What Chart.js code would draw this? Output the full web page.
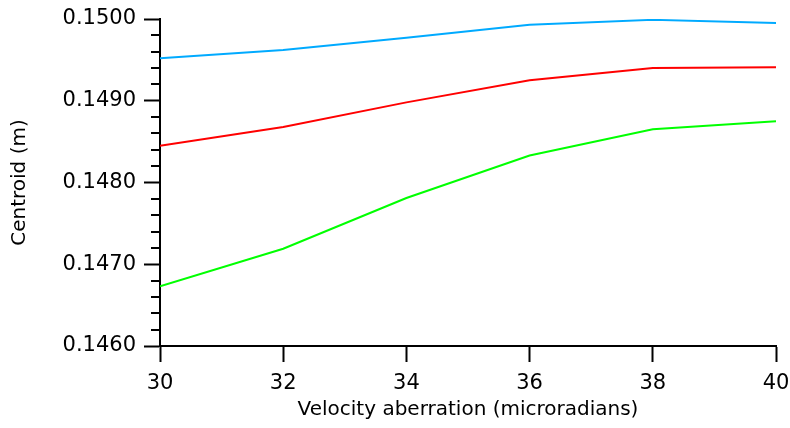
<!DOCTYPE html>
<html>
<head>
<meta charset="utf-8">
<script src="https://cdn.jsdelivr.net/npm/chart.js@4/dist/chart.umd.min.js"></script>
<style>
  html, body { margin: 0; padding: 0; background: #ffffff; }
  #wrap { width: 790px; height: 428px; }
</style>
</head>
<body>
<div id="wrap"><canvas id="c" width="790" height="428"></canvas></div>
<script>
// ---- data ----
const velocityAberration = [30, 32, 34, 36, 38, 40];
const centroidBlue  = [0.14952, 0.14962, 0.14977, 0.14993, 0.14999, 0.14995];
const centroidRed   = [0.14845, 0.14868, 0.14898, 0.14925, 0.14940, 0.14941];
const centroidGreen = [0.14673, 0.14719, 0.14781, 0.14833, 0.14865, 0.14875];
const xTickLabels = ['30', '32', '34', '36', '38', '40'];
const yTickLabels = ['0.1460', '0.1470', '0.1480', '0.1490', '0.1500'];
const xTitle = 'Velocity aberration (microradians)';
const yTitle = 'Centroid (m)';

const FONT = '"DejaVu Sans", "Liberation Sans", sans-serif';

function pts(ys) { return velocityAberration.map((x, i) => ({ x: x, y: ys[i] })); }

const minorTicks = {
  id: 'minorTicks',
  afterDraw(chart) {
    const ys = chart.scales.y;
    const ctx = chart.ctx;
    const x0 = chart.chartArea.left;
    ctx.save();
    ctx.strokeStyle = '#000';
    ctx.lineWidth = 2;
    for (let k = 0; k <= 20; k++) {
      if (k % 5 === 0) continue;
      const v = 0.146 + k * 0.0002;
      const py = Math.round(ys.getPixelForValue(v));
      ctx.beginPath();
      ctx.moveTo(x0 - 9, py);
      ctx.lineTo(x0, py);
      ctx.stroke();
    }
    ctx.restore();
  }
};

const ds = (data, color) => ({
  data: pts(data), borderColor: color, backgroundColor: color,
  borderWidth: 2, pointRadius: 0, tension: 0, fill: false
});

new Chart(document.getElementById('c'), {
  type: 'line',
  data: {
    datasets: [
      ds(centroidBlue, '#00aaff'),
      ds(centroidRed, '#ff0000'),
      ds(centroidGreen, '#00ff00')
    ]
  },
  options: {
    responsive: false,
    animation: false,
    devicePixelRatio: 1,
    layout: { padding: { top: 19, right: 14, left: 0, bottom: 0 } },
    plugins: { legend: { display: false }, tooltip: { enabled: false } },
    scales: {
      x: {
        type: 'linear', min: 30, max: 40,
        afterFit(s) { s.height = 82; s.paddingLeft = 0; s.paddingRight = 0; },
        ticks: {
          stepSize: 2, color: '#000', padding: 9,
          font: { family: FONT, size: 21 },
          callback: (v) => { const i = velocityAberration.indexOf(v); return i >= 0 ? xTickLabels[i] : ''; }
        },
        grid: { drawOnChartArea: false, drawTicks: true, tickLength: 16, tickWidth: 2, tickColor: '#000' },
        border: { display: true, color: '#000', width: 2 },
        title: { display: true, text: xTitle, color: '#000', font: { family: FONT, size: 20 }, padding: { top: 4, bottom: 6 } }
      },
      y: {
        type: 'linear', min: 0.146, max: 0.150,
        afterFit(s) { s.width = 160; s.paddingTop = 0; s.paddingBottom = 0; },
        ticks: {
          stepSize: 0.001, color: '#000', padding: 8,
          font: { family: FONT, size: 21 },
          callback: (v) => { const i = Math.round((v - 0.146) / 0.001); return yTickLabels[i] !== undefined ? yTickLabels[i] : ''; }
        },
        grid: { drawOnChartArea: false, drawTicks: true, tickLength: 16, tickWidth: 2, tickColor: '#000' },
        border: { display: true, color: '#000', width: 2 },
        title: { display: true, text: yTitle, color: '#000', font: { family: FONT, size: 20 }, padding: { top: 8, bottom: 4 } }
      }
    }
  },
  plugins: [minorTicks]
});
</script>
</body>
</html>
